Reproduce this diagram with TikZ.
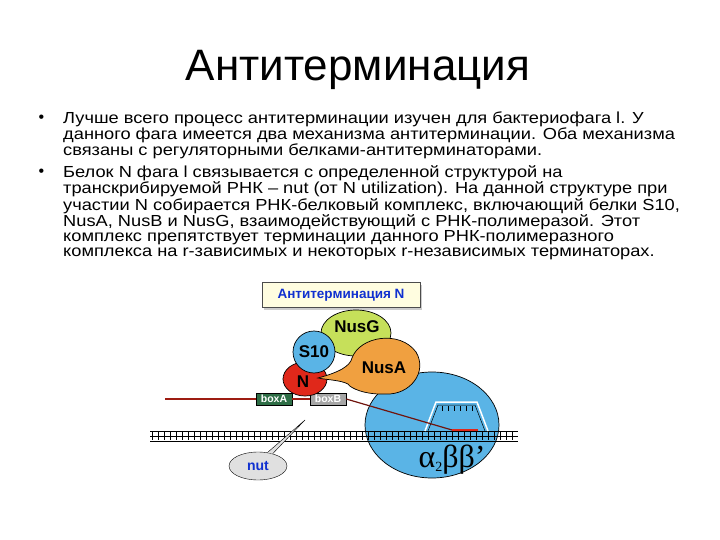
\documentclass[tikz,border=0pt]{standalone}
\usepackage{fontspec}
\setmainfont{Liberation Sans}
\newfontfamily\serf{Liberation Serif}
\usetikzlibrary{shadows,shapes.geometric}
\definecolor{pol}{HTML}{5AB4E6}
\definecolor{nusg}{HTML}{C6E05A}
\definecolor{nusa}{HTML}{F0A040}
\definecolor{nred}{HTML}{E0281A}
\definecolor{boxa}{HTML}{2E6E46}
\definecolor{ttl}{HTML}{1030D0}
\tikzset{
 line/.style={anchor=west,inner sep=0pt,xscale=1.14,font=\fontsize{16}{16}\selectfont},
 prot/.style={draw=black,line width=0.7pt},
 plab/.style={font=\bfseries\fontsize{17}{18}\selectfont},
 boxlab/.style={draw=black,line width=0.5pt,text=white,font=\bfseries\fontsize{10.5}{11}\selectfont,inner sep=0.5pt,minimum width=36pt,minimum height=12pt}
}
\begin{document}
\begin{tikzpicture}[x=1pt,y=-1pt]
\useasboundingbox (0,0) rectangle (720,540);
\node (title) at (358,70) {\fontsize{44}{48}\selectfont Антитерминация};
\node (b1) at (35,119) [anchor=west,font=\fontsize{16}{16}\selectfont] {•};
\node (b2) at (35,173) [anchor=west,font=\fontsize{16}{16}\selectfont] {•};
\node (l1) [line] at (63,119) {Лучше всего процесс антитерминации изучен для бактериофага l. У};
\node (l2) [line] at (63,135) {данного фага имеется два механизма антитерминации. Оба механизма};
\node (l3) [line] at (63,151) {связаны с регуляторными белками-антитерминаторами.};
\node (l4) [line] at (63,173) {Белок N фага l связывается с определенной структурой на};
\node (l5) [line] at (63,189) {транскрибируемой РНК – nut (от N utilization). На данной структуре при};
\node (l6) [line] at (63,206) {участии N собирается РНК-белковый комплекс, включающий белки S10,};
\node (l7) [line] at (63,222) {NusA, NusB и NusG, взаимодействующий с РНК-полимеразой. Этот};
\node (l8) [line] at (63,238) {комплекс препятствует терминации данного РНК-полимеразного};
\node (l9) [line] at (63,254) {комплекса на r-зависимых и некоторых r-независимых терминаторах.};
% title box
\node (tbox) [draw=black!70,fill=yellow!12,drop shadow={shadow xshift=2pt,shadow yshift=-2pt,fill=black!40},minimum width=158pt,minimum height=25pt,text=ttl,font=\bfseries\fontsize{13.5}{14}\selectfont] at (341,295) {Антитерминация N};
% polymerase
\fill[pol,draw=black,line width=0.7pt] (432,425) ellipse [x radius=67,y radius=53];
% DNA
\draw[line width=0.8pt] (150,431) -- (518,431) (150,441) -- (518,441);
\draw[line width=0.6pt] (150,436) -- (518,436);
\foreach \x in {152,158,...,516} \draw[line width=0.8pt] (\x,432) -- (\x,440);
% bubble
\fill[pol] (425,429) -- (436,402) -- (477,402) -- (488,429) -- cycle;
\draw[white,line width=1.5pt] (425,431) -- (436,402) -- (477,402) -- (488,431);
\draw[black,line width=0.5pt] (428,431) -- (438,405) -- (475,405) -- (485,431);
\foreach \x in {442,448,...,472} \draw[line width=0.8pt] (\x,406) -- (\x,411);
\node (alpha) at (452,460) {\serf\fontsize{32}{34}\selectfont α\raisebox{-4pt}{\fontsize{14}{14}\selectfont 2}ββ’};
% RNA
\coordinate (r0) at (165,399);
\coordinate (r1) at (452,430); \coordinate (r2) at (478,430);
\node (boxA) [boxlab,fill=boxa] at (274,399) {boxA};
\node (boxB) [boxlab,fill=black!35] at (328,399) {boxB};
\draw[nred!70!black,line width=1.2pt] (r0) -- (boxA.west);
\draw[nred!70!black,line width=1.2pt] (boxA.east) -- (boxB.west);
\draw[nred!50!black,line width=1.2pt] (boxB.east) -- (r1);
\draw[nred,line width=1.5pt] (r1) -- (r2);
% proteins
\fill[prot,fill=nusg] (356,333) ellipse [x radius=35,y radius=23];
\node (NusG) [plab] at (357,327) {NusG};
\fill[prot,fill=nred] (305,379) ellipse [x radius=22,y radius=17];
\node (N) [plab] at (303,382) {N};
\fill[prot,fill=nusa] (318,378) .. controls (340,372) and (350,366) .. (352,358)
  .. controls (360,336) and (400,330) .. (416,352) .. controls (428,372) and (410,395) .. (386,394)
  .. controls (365,395) and (350,388) .. (348,384) .. controls (340,380) and (328,380) .. (318,378) -- cycle;
\node (NusA) [plab] at (384,368) {NusA};
\fill[prot,fill=pol] (314,352) circle [radius=21];
\node (S10) [plab] at (314,352) {S10};
% nut
\node (nut) [draw=black,fill=black!12,ellipse,minimum width=58pt,minimum height=28pt,text=ttl,font=\bfseries\fontsize{14}{14}\selectfont] at (258,466) {nut};
\coordinate (tip) at (305,420);
\draw[fill=black!12] (nut.40) -- (tip) -- (nut.55);
\end{tikzpicture}
\end{document}
